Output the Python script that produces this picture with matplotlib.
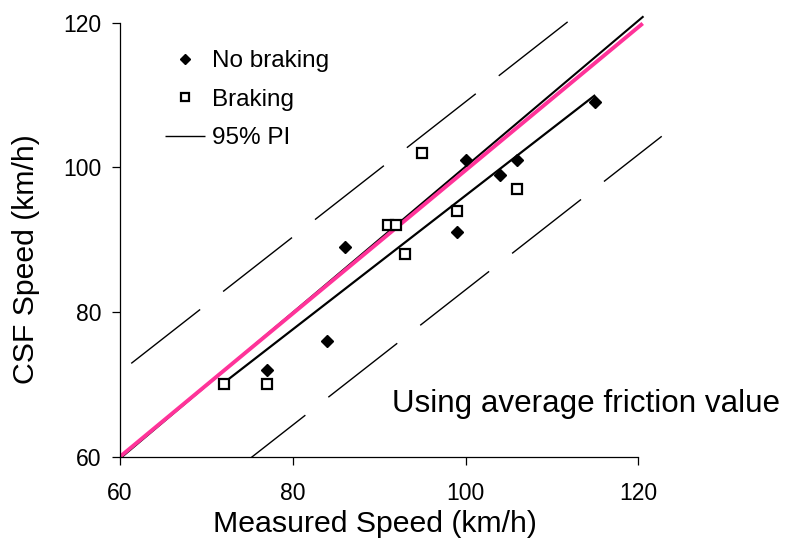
import numpy as np
import matplotlib
matplotlib.use("Agg")
import matplotlib.pyplot as plt

plt.rcParams['font.family'] = ['Liberation Sans', 'DejaVu Sans']

# ---- data ----
nb_x = [77, 84, 86, 99, 100, 104, 106, 115]
nb_y = [72, 76, 89, 91, 101, 99, 101, 109]
br_x = [72, 77, 91, 92, 93, 95, 99, 106]
br_y = [70, 70, 92, 92, 88, 102, 94, 97]

fit_x = [72, 115]
fit_y = [70.2, 110.0]

pi_x = [61.3, 122.7]
pi_upper = [72.9, 130.3]
pi_lower = [46.9, 104.3]

one_x = [60, 120.5]
pink_y = [60, 119.9]
black_y = [59.75, 120.8]

xticks = [60, 80, 100, 120]
yticks = [60, 80, 100, 120]

W, H = 788, 540
fig = plt.figure(figsize=(W / 100, H / 100), dpi=100)
x0 = 120
px_per_x = 8.64
x1 = x0 + 64 * px_per_x
ytop, ybot = 11.9, 456.7
ax = fig.add_axes([x0 / W, 1 - ybot / H, (x1 - x0) / W, (ybot - ytop) / H])
ax.set_xlim(60, 124)
ax.set_ylim(60, 121.5)

pi_up, = ax.plot(pi_x, pi_upper, color='black', lw=1.0, linestyle=(0, (63, 21)))
ax.plot(pi_x, pi_lower, color='black', lw=1.0, linestyle=(0, (63, 21)))
ax.plot(fit_x, fit_y, color='black', lw=1.6, solid_capstyle='butt')
ax.plot(one_x, black_y, color='black', lw=1.5)
ax.plot(one_x, pink_y, color='#FF3399', lw=2.8, solid_capstyle='butt')

h_nb, = ax.plot(nb_x, nb_y, linestyle='none', marker='D', ms=6.5, mfc='black',
                mec='black', mew=1.0, zorder=5)
h_br, = ax.plot(br_x, br_y, linestyle='none', marker='s', ms=7.0, mfc='white',
                mec='black', mew=1.6, zorder=5)

ax.spines['top'].set_visible(False)
ax.spines['right'].set_visible(False)
ax.spines['bottom'].set_bounds(60, 120)
ax.spines['left'].set_bounds(60, 120)
for s in ('bottom', 'left'):
    ax.spines[s].set_linewidth(0.9)

ax.set_xticks(xticks)
ax.set_yticks(yticks)
ax.tick_params(direction='out', length=5.5, width=0.9, labelsize=16.5)
ax.tick_params(axis='x', pad=13)
ax.tick_params(axis='y', pad=8)

ax.set_xlabel('Measured Speed (km/h)', fontsize=21.75)
ax.xaxis.set_label_coords((375 - x0) / (x1 - x0), (ybot - 510) / (ybot - ytop))
ax.set_ylabel('CSF Speed (km/h)', fontsize=21.75)
ax.yaxis.set_label_coords((40 - x0) / (x1 - x0), (ybot - 259) / (ybot - ytop))

fig.text(392 / W, 1 - 412 / H, 'Using average friction value', fontsize=22.6,
         ha='left', va='baseline')

ax.legend([h_nb, h_br, pi_up], ['No braking', 'Braking', '95% PI'],
          loc='upper left', bbox_to_anchor=(165 / W, 1 - 50 / H),
          bbox_transform=fig.transFigure, frameon=False, borderpad=0,
          borderaxespad=0, handlelength=1.65, handletextpad=0.3,
          labelspacing=0.68, fontsize=17.5, markerscale=0.85, numpoints=1)

fig.savefig('out.png', dpi=100)
